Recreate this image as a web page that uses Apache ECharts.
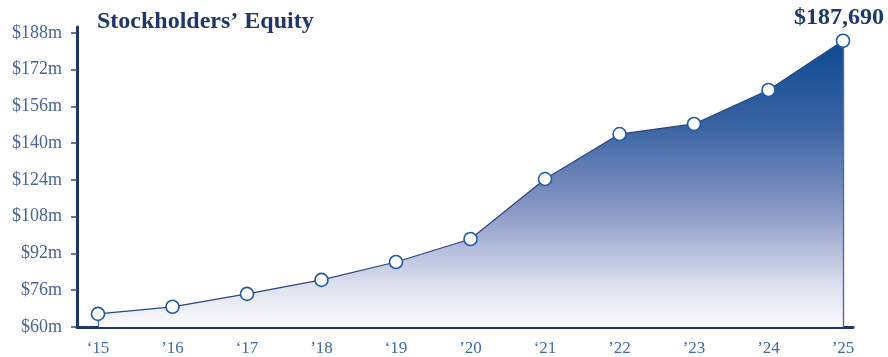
<!DOCTYPE html>
<html><head><meta charset="utf-8">
<script src="https://cdn.jsdelivr.net/npm/echarts@6/dist/echarts.min.js"></script>
<style>html,body{margin:0;padding:0;background:#fff}#c{width:888px;height:357px}</style>
</head><body><div id="c"></div>
<script>
const years = ['‘15','’16','‘17','’18','‘19','’20','‘21','’22','’23','’24','’25'];
const equity = [65.7, 68.8, 74.4, 80.5, 88.3, 98.3, 124.4, 144.0, 148.4, 163.2, 184.6];
const yTicks = [60, 76, 92, 108, 124, 140, 156, 172, 188];
const titleText = 'Stockholders’ Equity';
const lastLabel = '$187,690';

const FONT = 'Liberation Serif';
const NAVY = '#1f3768';
const xIdx = years.map((_, i) => i);
const points = equity.map((v, i) => [i, v]);
const chart = echarts.init(document.getElementById('c'));
chart.setOption({
  animation: false,
  backgroundColor: '#fff',
  title: {
    text: titleText, left: 92, top: 5,
    textStyle: { fontFamily: FONT, fontWeight: 'bold', fontSize: 24, color: NAVY }
  },
  grid: { left: 77, right: 35, top: 27, bottom: 30 },
  xAxis: {
    type: 'value', min: -0.282, max: 10.134,
    splitLine: { show: false },
    axisLine: { show: true, onZero: false, lineStyle: { color: NAVY, width: 3 } },
    axisTick: { show: false },
    axisLabel: {
      customValues: xIdx,
      formatter: v => years[Math.round(v)],
      fontFamily: FONT, fontSize: 17, color: '#4069a6', margin: 13
    }
  },
  yAxis: {
    type: 'value', min: 60, max: 190.6,
    splitLine: { show: false },
    axisLine: { show: true, onZero: false, lineStyle: { color: NAVY, width: 3 } },
    axisTick: { show: true, customValues: yTicks, length: 6, inside: false, lineStyle: { color: '#2d4a80', width: 1.5 } },
    axisLabel: {
      customValues: yTicks,
      formatter: v => '$' + v + 'm',
      fontFamily: FONT, fontSize: 18, color: '#4a6496', margin: 15
    }
  },
  series: [{
    type: 'line',
    data: points,
    symbol: 'none',
    lineStyle: { color: '#2a4678', width: 1.2 },
    areaStyle: {
      opacity: 1,
      color: new echarts.graphic.LinearGradient(0, 0, 0, 1, [
        { offset: 0, color: '#0d4a93' },
        { offset: 0.3, color: '#3a63a3' },
        { offset: 0.6, color: '#8c9ac7' },
        { offset: 0.85, color: '#dcdfee' },
        { offset: 1, color: '#fbfbfd' }
      ])
    },
    markLine: {
      silent: true, symbol: 'none', label: { show: false }, z: 3,
      lineStyle: { type: 'solid', color: '#4a6ea6', width: 1.4 },
      data: [
        [{ coord: [0, 60] }, { coord: [0, equity[0]] }],
        [{ coord: [10, 60] }, { coord: [10, equity[10]] }]
      ]
    },
    z: 2
  }, {
    type: 'scatter',
    data: points,
    symbol: 'circle', symbolSize: 13,
    itemStyle: { color: '#fff', borderColor: '#1f5aa6', borderWidth: 1.6, opacity: 1 },
    z: 5
  }],
  graphic: [{
    type: 'text', right: 4, top: 6,
    style: { text: lastLabel, font: 'bold 24px "' + FONT + '"', fill: NAVY }
  }]
});
</script></body></html>
